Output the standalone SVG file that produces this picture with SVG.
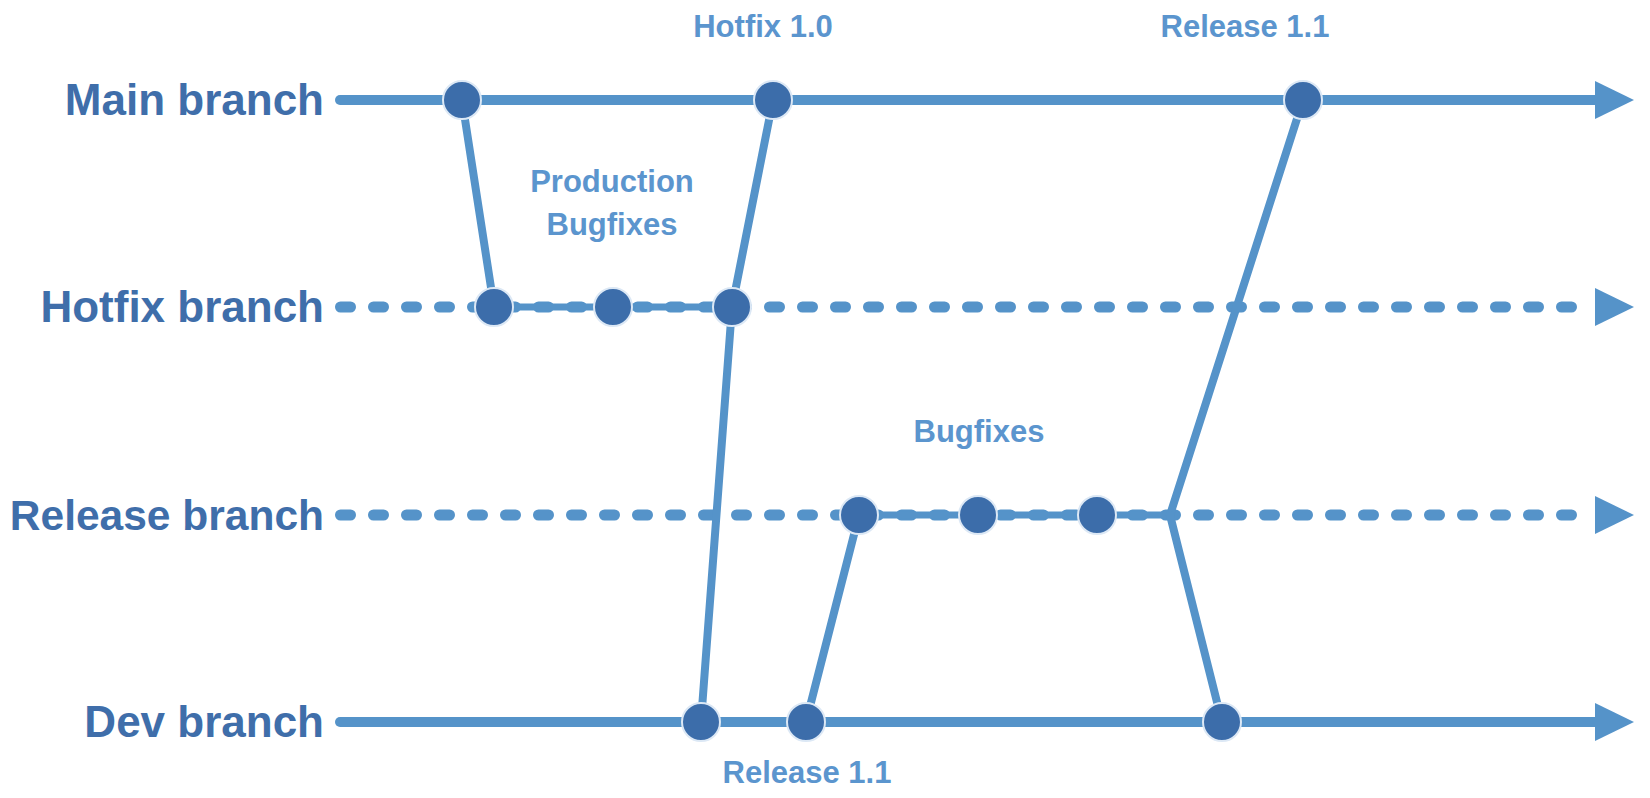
<svg xmlns="http://www.w3.org/2000/svg" width="1650" height="798" viewBox="0 0 1650 798">
<style>
.bg{fill:#ffffff}
.lbl{font-family:"Liberation Sans",Arial,sans-serif;font-weight:bold;font-size:44px;fill:#3f6eaa;text-anchor:end}
.ann{font-family:"Liberation Sans",Arial,sans-serif;font-weight:bold;font-size:31px;fill:#5b95ce;text-anchor:middle}
.solid{stroke:#5593c9;stroke-width:10;fill:none;stroke-linecap:round}
.dash{stroke:#5593c9;stroke-width:11;fill:none;stroke-linecap:round;stroke-dasharray:10 23}
.seg{stroke:#5593c9;stroke-width:7;fill:none}
.conn{stroke:#5593c9;stroke-width:8;fill:none;stroke-linecap:round}
.head{fill:#5593c9}
.node{fill:#3c6daa;stroke:#dce8f5;stroke-width:2}
</style>
<rect class="bg" x="0" y="0" width="1650" height="798"/>
<g id="branches">
  <g id="main-branch">
    <text class="lbl" x="324" y="115">Main branch</text>
    <path class="solid" d="M340 100 H1600"/>
    <polygon class="head" points="1595,81 1634,100 1595,119"/>
  </g>
  <g id="hotfix-branch">
    <text class="lbl" x="324" y="322">Hotfix branch</text>
    <path class="dash" d="M340.5 307 H1592"/>
    <path class="seg" d="M494 307 H732"/>
    <polygon class="head" points="1595,288 1634,307 1595,326"/>
  </g>
  <g id="release-branch">
    <text class="lbl" x="324" y="530" style="font-size:42.5px">Release branch</text>
    <path class="dash" d="M340.5 515 H1592"/>
    <path class="seg" d="M859 515 H1170"/>
    <polygon class="head" points="1595,496 1634,515 1595,534"/>
  </g>
  <g id="dev-branch">
    <text class="lbl" x="324" y="737">Dev branch</text>
    <path class="solid" d="M340 722 H1600"/>
    <polygon class="head" points="1595,703 1634,722 1595,741"/>
  </g>
</g>
<g id="connectors">
  <line class="conn" x1="462" y1="100" x2="494" y2="307"/>
  <line class="conn" x1="773" y1="100" x2="732" y2="307"/>
  <line class="conn" x1="732" y1="307" x2="701" y2="722"/>
  <line class="conn" x1="806" y1="722" x2="859" y2="515"/>
  <line class="conn" x1="1303" y1="100" x2="1170" y2="515"/>
  <line class="conn" x1="1170" y1="515" x2="1222" y2="722"/>
</g>
<g id="nodes">
  <circle id="main-1" class="node" cx="462" cy="100" r="19"/>
  <circle id="main-2" class="node" cx="773" cy="100" r="19"/>
  <circle id="main-3" class="node" cx="1303" cy="100" r="19"/>
  <circle id="hotfix-1" class="node" cx="494" cy="307" r="19"/>
  <circle id="hotfix-2" class="node" cx="613" cy="307" r="19"/>
  <circle id="hotfix-3" class="node" cx="732" cy="307" r="19"/>
  <circle id="release-1" class="node" cx="859" cy="515" r="19"/>
  <circle id="release-2" class="node" cx="978" cy="515" r="19"/>
  <circle id="release-3" class="node" cx="1097" cy="515" r="19"/>
  <circle id="dev-1" class="node" cx="701" cy="722" r="19"/>
  <circle id="dev-2" class="node" cx="806" cy="722" r="19"/>
  <circle id="dev-3" class="node" cx="1222" cy="722" r="19"/>
</g>
<g id="labels">
  <text class="ann" x="763" y="37">Hotfix 1.0</text>
  <text class="ann" x="1245" y="37">Release 1.1</text>
  <text class="ann" x="612" y="192">Production</text>
  <text class="ann" x="612" y="235">Bugfixes</text>
  <text class="ann" x="979" y="442">Bugfixes</text>
  <text class="ann" x="807" y="783">Release 1.1</text>
</g>
</svg>
